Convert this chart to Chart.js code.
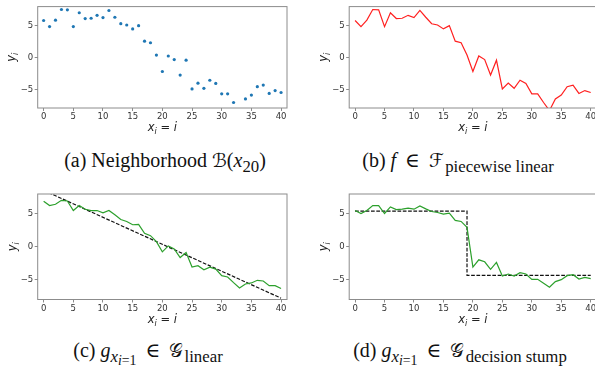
<!DOCTYPE html>
<html>
<head>
<meta charset="utf-8">
<script src="https://cdn.jsdelivr.net/npm/chart.js@4.4.1/dist/chart.umd.min.js"></script>
<style>
    html, body { margin: 0; padding: 0; background: #fff; overflow: hidden; }
    body { width: 595px; height: 381px; position: relative; }
    .panel { position: absolute; }
    .caption {
        position: absolute;
        font-family: "Liberation Serif", "DejaVu Serif", serif;
        font-size: 20px;
        color: #111;
        white-space: nowrap;
        transform: translate(-50%, -50%);
    }
    .caption i { font-style: italic; }
    .caption .cal { font-family: "DejaVu Serif", "DejaVu Sans", serif; font-size: 19px; }
    .caption .rel { margin: 0 0.45em; }
    .caption sub { font-size: 84%; vertical-align: -0.3em; line-height: 0; }
    .caption sub sub { font-size: 82%; vertical-align: -0.25em; }
    .caption .gap { margin-left: 0.08em; }
</style>
</head>
<body>
<canvas id="chartA" class="panel" style="left:0px; top:0px;"></canvas>
<canvas id="chartB" class="panel" style="left:300px; top:0px;"></canvas>
<canvas id="chartC" class="panel" style="left:0px; top:185px;"></canvas>
<canvas id="chartD" class="panel" style="left:300px; top:185px;"></canvas>

<div class="caption" style="left:165px; top:160px;">(a) Neighborhood <span class="cal">ℬ</span>(<i>x</i><sub>20</sub>)</div>
<div class="caption" style="left:458px; top:160px;">(b) <i>f</i><span class="rel">∈</span><span class="cal">ℱ</span><sub class="gap">piecewise linear</sub></div>
<div class="caption" style="left:148px; top:350px;">(c) <i>g</i><sub><i>x</i><sub><i>i</i>=1</sub></sub><span class="rel">∈</span><span class="cal">𝒢</span><sub class="gap">linear</sub></div>
<div class="caption" style="left:460px; top:350px;">(d) <i>g</i><sub><i>x</i><sub><i>i</i>=1</sub></sub><span class="rel">∈</span><span class="cal">𝒢</span><sub class="gap">decision stump</sub></div>

<script>
// x positions i = 0..40
const xs = [0, 1, 2, 3, 4, 5, 6, 7, 8, 9, 10, 11, 12, 13, 14, 15, 16, 17, 18, 19, 20,
    21, 22, 23, 24, 25, 26, 27, 28, 29, 30, 31, 32, 33, 34, 35, 36, 37, 38, 39, 40];

// neighborhood of x20 (panels a and b)
const neighborhoodY = [5.75, 4.8, 5.8, 7.45, 7.4, 4.8, 6.95, 6.05, 6.1, 6.55, 6.2,
    7.3, 6.25, 5.25, 5.05, 4.45, 4.95, 2.55, 2.3, 0.4, -2.15,
    0.25, -0.3, -2.7, -0.4, -4.85, -3.95, -4.75, -3.5, -4.0, -5.6,
    -5.6, -6.95, -8.2, -6.4, -5.8, -4.5, -4.25, -5.55, -5.1, -5.4];

// sample around x1, linear surrogate (panel c)
const linearSampleY = [6.9, 6.25, 6.45, 7.05, 6.95, 5.5, 6.25, 5.7, 5.5, 5.5, 5.15,
    5.5, 4.85, 4.15, 3.85, 3.35, 3.4, 2.05, 1.7, 0.8, -0.75,
    0.15, -0.3, -1.6, -0.85, -3.05, -2.85, -3.45, -3.05, -3.35, -4.35,
    -4.55, -5.4, -6.2, -5.6, -5.45, -5.05, -5.15, -5.85, -5.85, -6.3];
const linearFitX = [0, 40];
const linearFitY = [8.55, -7.75];

// sample around x1, decision stump surrogate (panel d)
const stumpSampleY = [5.5, 5.05, 5.5, 6.25, 6.25, 5.05, 6.05, 5.65, 5.7, 5.85, 5.7,
    6.2, 5.75, 5.35, 5.2, 4.95, 5.1, 4.0, 3.85, 2.95, -3.05,
    -1.95, -2.25, -3.4, -2.35, -4.4, -4.1, -4.4, -3.9, -4.1, -4.9,
    -4.9, -5.5, -6.1, -5.25, -4.95, -4.35, -4.2, -4.85, -4.6, -4.8];
const stumpX = [0, 19, 19, 40];
const stumpY = [5.4, 5.4, -4.3, -4.3];

const xTicks = [0, 5, 10, 15, 20, 25, 30, 35, 40];
const yTicks = [-5, 0, 5];

// axis titles, drawn as small math: [text, italic, subscript]
const xTitleParts = [['x', true, false], ['i', true, true], [' = ', false, false], ['i', true, false]];
const yTitleParts = [['y', true, false], ['i', true, true]];

const spineColor = '#8c8c8c';
const tickFont = { family: 'DejaVu Sans', size: 8.5 };
const labelSize = 11.5;

function toPoints(xv, yv) {
    return xv.map(function(x, i) { return { x: x, y: yv[i] }; });
}

function partFont(p) {
    const size = p[2] ? labelSize * 0.7 : labelSize;
    return (p[1] ? 'oblique ' : '') + size + 'px "DejaVu Sans"';
}

// draw the parts centred on (0,0)
function drawMath(ctx, parts) {
    let total = 0;
    parts.forEach(function(p) {
        ctx.font = partFont(p);
        total += ctx.measureText(p[0]).width;
    });
    let x = -total / 2;
    ctx.textBaseline = 'alphabetic';
    ctx.textAlign = 'left';
    parts.forEach(function(p) {
        ctx.font = partFont(p);
        const y = p[2] ? labelSize * 0.55 : labelSize * 0.3;
        ctx.fillText(p[0], x, y);
        x += ctx.measureText(p[0]).width;
    });
}

const framePlugin = {
    id: 'frame',
    afterDatasetsDraw: function(chart) {
        const a = chart.chartArea;
        const ctx = chart.ctx;
        ctx.save();
        ctx.strokeStyle = spineColor;
        ctx.lineWidth = 1;
        ctx.strokeRect(a.left, a.top, a.right - a.left, a.bottom - a.top);
        ctx.restore();
    }
};

const mathTitlePlugin = {
    id: 'mathTitles',
    afterDraw: function(chart, args, opts) {
        const a = chart.chartArea;
        const ctx = chart.ctx;
        ctx.save();
        ctx.fillStyle = '#222';
        ctx.translate((a.left + a.right) / 2, a.bottom + opts.xOffset);
        drawMath(ctx, xTitleParts);
        ctx.restore();

        ctx.save();
        ctx.fillStyle = '#222';
        ctx.translate(opts.yX, (a.top + a.bottom) / 2);
        ctx.rotate(-Math.PI / 2);
        drawMath(ctx, yTitleParts);
        ctx.restore();
    }
};

function makeChart(id, datasets, box) {
    const canvas = document.getElementById(id);
    canvas.style.width = box.w + 'px';
    canvas.style.height = box.h + 'px';

    const configuration = {
        type: 'scatter',
        data: { datasets: datasets },
        plugins: [framePlugin, mathTitlePlugin],
        options: {
            responsive: false,
            animation: false,
            devicePixelRatio: 1,
            layout: { padding: { left: 0, right: box.right, top: box.top, bottom: 0 } },
            plugins: {
                legend: { display: false },
                tooltip: { enabled: false },
                mathTitles: { xOffset: box.xOff, yX: box.yX }
            },
            scales: {
                x: {
                    type: 'linear',
                    min: -1,
                    max: 41,
                    afterFit: function(scale) { scale.height = box.xh; },
                    afterBuildTicks: function(scale) {
                        scale.ticks = xTicks.map(function(v) { return { value: v }; });
                    },
                    grid: { display: true, drawOnChartArea: false, drawTicks: true, tickLength: 3, color: spineColor },
                    border: { display: false },
                    ticks: { font: tickFont, color: '#333', padding: 1, maxRotation: 0 }
                },
                y: {
                    type: 'linear',
                    min: box.ymin,
                    max: box.ymax,
                    afterFit: function(scale) { scale.width = box.yw; },
                    afterBuildTicks: function(scale) {
                        scale.ticks = yTicks.map(function(v) { return { value: v }; });
                    },
                    grid: { display: true, drawOnChartArea: false, drawTicks: true, tickLength: 3, color: spineColor },
                    border: { display: false },
                    ticks: {
                        font: tickFont,
                        color: '#333',
                        padding: 1.5,
                        callback: function(v) { return String(v).replace('-', '\u2212'); }
                    }
                }
            }
        }
    };

    canvas.width = box.w;
    canvas.height = box.h;
    return new Chart(canvas.getContext('2d'), configuration);
}

function lineSet(xv, yv, color, dash) {
    return {
        data: toPoints(xv, yv),
        showLine: true,
        borderColor: color,
        borderWidth: 1.2,
        borderDash: dash || [],
        pointRadius: 0,
        fill: false,
        tension: 0
    };
}

const topBoxLeft = { w: 300, h: 140, right: 13, top: 3.3, yw: 37.7, xh: 32, ymin: -7.8, ymax: 7.9, xOff: 20, yX: 12 };
const topBoxRight = { w: 300, h: 140, right: 3.4, top: 3.3, yw: 49.2, xh: 32, ymin: -7.8, ymax: 7.9, xOff: 20, yX: 24 };
const botBoxLeft = { w: 300, h: 150, right: 13, top: 9, yw: 37.7, xh: 35.5, ymin: -7.95, ymax: 8.0, xOff: 20.5, yX: 12.5 };
const botBoxRight = { w: 300, h: 150, right: 3.4, top: 9, yw: 49.2, xh: 35.5, ymin: -7.95, ymax: 8.0, xOff: 20, yX: 24 };

makeChart('chartA', [{
    data: toPoints(xs, neighborhoodY),
    showLine: false,
    pointRadius: 1.6,
    pointBorderWidth: 0,
    pointBackgroundColor: '#1f77b4'
}], topBoxLeft);

makeChart('chartB', [lineSet(xs, neighborhoodY, '#ff2020')], topBoxRight);

makeChart('chartC', [
    lineSet(xs, linearSampleY, '#2ca02c'),
    lineSet(linearFitX, linearFitY, '#111', [3.7, 1.6])
], botBoxLeft);

makeChart('chartD', [
    lineSet(xs, stumpSampleY, '#2ca02c'),
    lineSet(stumpX, stumpY, '#111', [3.7, 1.6])
], botBoxRight);
</script>
</body>
</html>
